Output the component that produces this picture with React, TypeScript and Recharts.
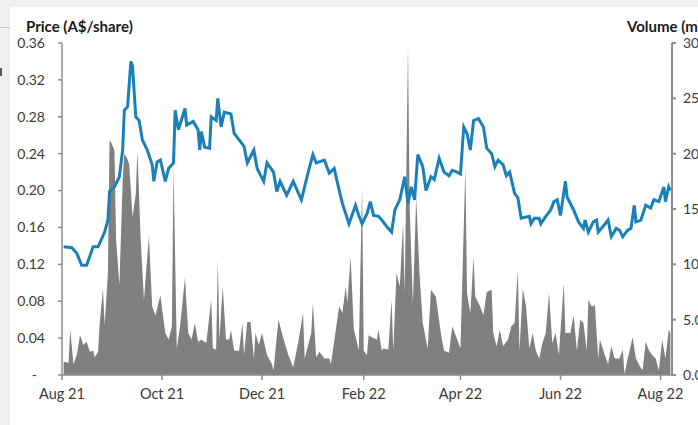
import React from "react";
import { ComposedChart, Line, Area, XAxis, YAxis } from "recharts";

// Days are counted from 1 Aug 2021
const tickDays = [0, 61, 122, 184, 243, 304, 365];
const tickLabels = ["Aug 21", "Oct 21", "Dec 21", "Feb 22", "Apr 22", "Jun 22", "Aug 22"];

const priceTicks = [0, 0.04, 0.08, 0.12, 0.16, 0.2, 0.24, 0.28, 0.32, 0.36];
const volumeTicks = [0, 5, 10, 15, 20, 25, 30];

const priceDays = [
  1, 6, 9, 12, 15, 19, 22, 26, 28, 29, 32, 35, 37, 38, 40, 42, 43, 45, 47, 49,
  52, 55, 56, 58, 60, 63, 65, 68, 69, 71, 75, 76, 80, 83, 84, 85, 87, 90, 91, 94,
  95, 97, 99, 103, 105, 108, 111, 113, 117, 119, 123, 125, 129, 131, 133, 137, 141, 146, 150, 153,
  155, 160, 163, 166, 168, 171, 173, 175, 179, 181, 183, 186, 188, 190, 193, 195, 198, 201, 203, 206,
  209, 211, 213, 215, 217, 220, 222, 225, 227, 230, 233, 236, 238, 241, 243, 245, 247, 249, 251, 254,
  257, 259, 262, 264, 266, 269, 271, 273, 276, 278, 280, 285, 286, 288, 291, 292, 295, 298, 300, 302,
  304, 307, 308, 312, 315, 318, 319, 321, 324, 326, 327, 329, 333, 335, 338, 340, 342, 345, 347, 349,
  350, 353, 356, 359, 361, 364, 367, 368, 370, 371,
];
const priceValues = [
  0.139, 0.138, 0.132, 0.119, 0.119, 0.139, 0.139, 0.155, 0.168, 0.199, 0.204, 0.215, 0.244, 0.287, 0.291, 0.34, 0.335, 0.28, 0.276, 0.255,
  0.244, 0.228, 0.21, 0.231, 0.233, 0.21, 0.224, 0.23, 0.287, 0.266, 0.289, 0.271, 0.275, 0.266, 0.244, 0.264, 0.247, 0.246, 0.28, 0.276,
  0.3, 0.269, 0.285, 0.283, 0.262, 0.255, 0.248, 0.23, 0.244, 0.224, 0.21, 0.23, 0.22, 0.199, 0.21, 0.195, 0.21, 0.19, 0.219, 0.239,
  0.23, 0.233, 0.219, 0.224, 0.208, 0.186, 0.175, 0.164, 0.184, 0.173, 0.164, 0.175, 0.188, 0.173, 0.172, 0.168, 0.161, 0.155, 0.179, 0.19,
  0.215, 0.186, 0.204, 0.19, 0.239, 0.226, 0.2, 0.215, 0.212, 0.235, 0.22, 0.216, 0.222, 0.22, 0.218, 0.269, 0.262, 0.244, 0.276, 0.278,
  0.269, 0.246, 0.24, 0.226, 0.233, 0.228, 0.216, 0.22, 0.197, 0.192, 0.17, 0.172, 0.164, 0.17, 0.17, 0.164, 0.172, 0.179, 0.188, 0.19,
  0.173, 0.21, 0.193, 0.179, 0.166, 0.159, 0.168, 0.155, 0.166, 0.168, 0.155, 0.159, 0.168, 0.15, 0.159, 0.157, 0.15, 0.157, 0.159, 0.184,
  0.166, 0.168, 0.184, 0.181, 0.19, 0.188, 0.204, 0.188, 0.204, 0.2,
];

const volumeDays = [
  1, 4, 5, 7, 9, 11, 13, 15, 17, 19, 20, 22, 23, 25, 26, 28, 29, 30, 32, 33,
  35, 37, 38, 40, 41, 43, 45, 46, 48, 50, 53, 55, 57, 60, 63, 65, 67, 68, 70, 72,
  75, 77, 79, 81, 83, 85, 88, 91, 92, 94, 95, 96, 98, 100, 102, 103, 105, 108, 110, 111,
  113, 115, 117, 118, 120, 122, 125, 128, 129, 132, 135, 138, 141, 144, 147, 148, 152, 153, 155, 157,
  160, 163, 164, 167, 169, 171, 173, 174, 176, 178, 180, 181, 183, 184, 186, 187, 189, 192, 193, 195,
  196, 199, 201, 202, 204, 206, 208, 209, 211, 212, 214, 216, 218, 220, 223, 225, 228, 231, 233, 236,
  238, 241, 243, 246, 247, 249, 251, 252, 255, 257, 259, 262, 263, 265, 267, 269, 272, 274, 276, 278,
  279, 281, 283, 285, 287, 289, 291, 293, 295, 297, 299, 301, 303, 306, 307, 310, 312, 314, 316, 318,
  320, 321, 323, 325, 327, 328, 331, 333, 335, 337, 340, 342, 343, 345, 348, 350, 352, 354, 356, 358,
  360, 362, 364, 366, 368, 370, 371,
];
const volumeValues = [
  1.2, 1.1, 4.1, 1.0, 1.8, 3.6, 2.7, 3.0, 2.1, 2.2, 1.6, 2.1, 4.7, 7.8, 4.5, 9.2, 21.2, 21.0, 20.3, 12.2,
  8.1, 17.6, 20.0, 19.5, 19.0, 14.3, 16.4, 20.3, 12.2, 6.8, 12.6, 6.2, 5.4, 7.2, 3.8, 3.2, 4.4, 18.8, 2.4, 4.4,
  8.8, 3.8, 3.2, 4.7, 3.0, 3.2, 2.9, 6.8, 2.4, 2.3, 10.4, 3.2, 8.0, 3.2, 3.2, 4.1, 2.2, 2.2, 4.7, 1.8,
  4.8, 4.8, 1.5, 3.8, 2.7, 3.8, 1.8, 1.0, 0.4, 5.0, 3.3, 1.8, 0.7, 2.9, 5.6, 1.5, 3.8, 6.5, 1.6, 2.1,
  1.5, 1.5, 1.0, 4.1, 6.2, 5.6, 8.0, 6.5, 10.7, 4.1, 2.9, 2.2, 17.0, 2.2, 1.8, 3.6, 3.4, 3.2, 4.1, 2.2,
  2.4, 2.3, 6.8, 2.2, 9.2, 8.0, 13.7, 7.4, 29.7, 15.2, 6.5, 16.1, 9.2, 4.7, 2.4, 7.7, 7.1, 3.8, 2.2, 2.0,
  4.4, 3.2, 2.4, 18.8, 7.4, 5.6, 10.7, 7.1, 6.2, 5.4, 7.5, 7.7, 3.8, 2.6, 4.1, 2.6, 3.2, 4.4, 4.7, 9.5,
  2.2, 7.8, 6.2, 2.4, 3.8, 2.2, 1.5, 2.9, 3.8, 7.4, 2.9, 3.8, 1.8, 8.3, 3.8, 3.8, 5.4, 2.2, 5.0, 4.7,
  2.2, 6.8, 6.2, 6.3, 1.5, 3.2, 1.8, 1.0, 2.6, 1.5, 1.5, 2.3, 0.1, 1.5, 3.4, 1.5, 0.9, 0.4, 3.0, 2.2,
  1.8, 1.5, 0.4, 3.2, 1.5, 4.1, 3.8,
];

type Row = { day: number; price?: number; volume?: number };

function buildRows(): Row[] {
  const map = new Map<number, Row>();
  priceDays.forEach((d, i) => {
    const r = map.get(d) || { day: d };
    r.price = priceValues[i];
    map.set(d, r);
  });
  volumeDays.forEach((d, i) => {
    const r = map.get(d) || { day: d };
    r.volume = volumeValues[i];
    map.set(d, r);
  });
  return Array.from(map.values()).sort((a, b) => a.day - b.day);
}

const rows = buildRows();

const FONT = "Lato, 'Open Sans', sans-serif";
const AXIS = "#8c8c8c";
const TEXT = "#3a3a3a";

const LeftTick = (props: any) => {
  const { x, y, payload } = props;
  const v = payload.value as number;
  const label = v === 0 ? "-" : v.toFixed(2);
  return (
    <text x={v === 0 ? x - 8 : x} y={y} dy="0.35em" textAnchor="end" fill={TEXT} fontSize={14} fontFamily={FONT}>
      {label}
    </text>
  );
};

export default function App() {
  return (
    <div
      style={{
        position: "absolute",
        left: 0,
        top: 0,
        width: 698,
        height: 425,
        overflow: "hidden",
        background: "#ffffff",
        fontFamily: FONT,
      }}
    >
      <div style={{ position: "absolute", left: 0, top: 0, width: 698, height: 7, background: "#f0f0f0" }} />
      <div style={{ position: "absolute", left: 0, top: 0, width: 10, height: 425, background: "#f0f0f0" }} />
      <div style={{ position: "absolute", left: 0, top: 27, width: 10, height: 1, background: "#c8c8c8" }} />
      <div style={{ position: "absolute", left: 0, top: 68, width: 2, height: 8, background: "#555" }} />
      <div
        style={{
          position: "absolute",
          left: 26,
          top: 17,
          fontSize: 15,
          fontWeight: 700,
          color: "#1a1a1a",
          whiteSpace: "nowrap",
          lineHeight: "19px",
        }}
      >
        Price (A$/share)
      </div>
      <div
        style={{
          position: "absolute",
          left: 627,
          top: 17,
          fontSize: 15,
          fontWeight: 700,
          color: "#1a1a1a",
          whiteSpace: "nowrap",
          lineHeight: "19px",
        }}
      >
        Volume (m)
      </div>
      <div style={{ position: "absolute", left: 0, top: 0 }}>
        <ComposedChart width={698} height={425} data={rows} margin={{ top: 43, right: 0, bottom: 20, left: 12 }}>
          <XAxis
            dataKey="day"
            type="number"
            domain={[0, 372]}
            ticks={tickDays}
            tickFormatter={(v: number) => tickLabels[tickDays.indexOf(v)] ?? ""}
            interval={0}
            height={30}
            stroke={AXIS}
            strokeWidth={1.5}
            tickSize={5}
            tickMargin={9}
            tick={{ fill: TEXT, fontSize: 14.5, fontFamily: FONT }}
            allowDataOverflow
          />
          <YAxis
            yAxisId="price"
            orientation="left"
            domain={[0, 0.36]}
            ticks={priceTicks}
            interval={0}
            width={50}
            stroke={AXIS}
            strokeWidth={1.5}
            tickSize={4}
            tickMargin={13}
            tick={<LeftTick />}
          />
          <YAxis
            yAxisId="volume"
            orientation="right"
            domain={[0, 30]}
            ticks={volumeTicks}
            interval={0}
            width={26}
            stroke={AXIS}
            strokeWidth={2}
            tickSize={4}
            tickMargin={7}
            tickFormatter={(v: number) => v.toFixed(1)}
            tick={{ fill: TEXT, fontSize: 14, fontFamily: FONT, textAnchor: "start" }}
          />
          <Area
            yAxisId="volume"
            dataKey="volume"
            type="linear"
            fill="#808080"
            fillOpacity={1}
            stroke="none"
            connectNulls
            isAnimationActive={false}
          />
          <Line
            yAxisId="price"
            dataKey="price"
            type="linear"
            stroke="#1a80b8"
            strokeWidth={3}
            dot={false}
            connectNulls
            isAnimationActive={false}
          />
        </ComposedChart>
      </div>
    </div>
  );
}
